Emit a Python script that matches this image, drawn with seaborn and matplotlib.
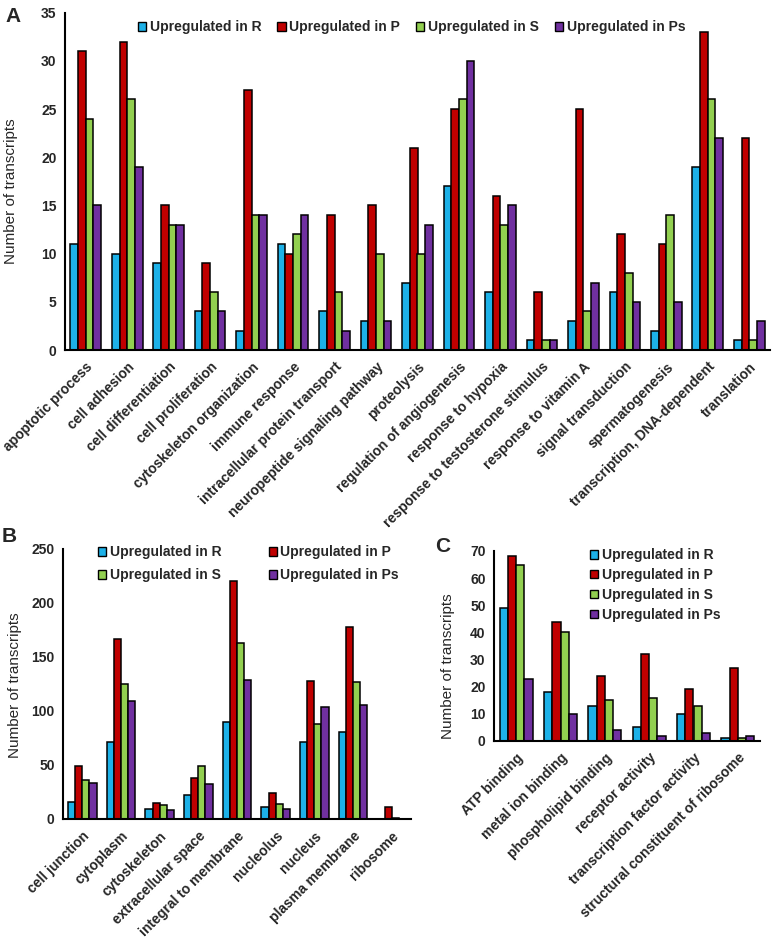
import matplotlib
matplotlib.use("Agg")
import matplotlib.pyplot as plt
from matplotlib.patches import Patch
import seaborn as sns
import pandas as pd

sns.set_style("white")
plt.rcParams['font.family'] = ['Liberation Sans', 'DejaVu Sans']

series = ["Upregulated in R", "Upregulated in P", "Upregulated in S", "Upregulated in Ps"]
colors = ["#1DB1E8", "#C00000", "#92D050", "#7030A0"]

# Panel A
cats_a = ["apoptotic process", "cell adhesion", "cell differentiation", "cell proliferation",
          "cytoskeleton organization", "immune response", "intracellular protein transport",
          "neuropeptide signaling pathway", "proteolysis", "regulation of angiogenesis",
          "response to hypoxia", "response to testosterone stimulus", "response to vitamin A",
          "signal transduction", "spermatogenesis", "transcription, DNA-dependent", "translation"]
a_R = [11, 10, 9, 4, 2, 11, 4, 3, 7, 17, 6, 1, 3, 6, 2, 19, 1]
a_P = [31, 32, 15, 9, 27, 10, 14, 15, 21, 25, 16, 6, 25, 12, 11, 33, 22]
a_S = [24, 26, 13, 6, 14, 12, 6, 10, 10, 26, 13, 1, 4, 8, 14, 26, 1]
a_Ps = [15, 19, 13, 4, 14, 14, 2, 3, 13, 30, 15, 1, 7, 5, 5, 22, 3]

# Panel B
cats_b = ["cell junction", "cytoplasm", "cytoskeleton", "extracellular space",
          "integral to membrane", "nucleolus", "nucleus", "plasma membrane", "ribosome"]
b_R = [16, 71, 9, 22, 90, 11, 71, 81, 0]
b_P = [49, 167, 15, 38, 220, 24, 128, 178, 11]
b_S = [36, 125, 13, 49, 163, 14, 88, 127, 1]
b_Ps = [33, 109, 8, 32, 129, 9, 104, 106, 0]

# Panel C
cats_c = ["ATP binding", "metal ion binding", "phospholipid binding", "receptor activity",
          "transcription factor activity", "structural constituent of ribosome"]
c_R = [49, 18, 13, 5, 10, 1]
c_P = [68, 44, 24, 32, 19, 27]
c_S = [65, 40, 15, 16, 13, 1]
c_Ps = [23, 10, 4, 2, 3, 2]


def long_df(cats, vals):
    rows = []
    for s, v in zip(series, vals):
        for c, x in zip(cats, v):
            rows.append({"cat": c, "series": s, "value": x})
    return pd.DataFrame(rows)


W, H = 773, 939
fig = plt.figure(figsize=(W / 100, H / 100), dpi=100)


def px_axes(left, right, top, bottom):
    return fig.add_axes([left / W, 1 - bottom / H, (right - left) / W, (bottom - top) / H])


axA = px_axes(65, 770, 12.7, 350)
axB = px_axes(63, 411, 549, 819)
axC = px_axes(494, 760, 551, 741)

panels = [
    (axA, cats_a, [a_R, a_P, a_S, a_Ps], 35, 5, (-0.067, 0.47)),
    (axB, cats_b, [b_R, b_P, b_S, b_Ps], 250, 50, (-0.118, 0.496)),
    (axC, cats_c, [c_R, c_P, c_S, c_Ps], 70, 10, (-0.147, 0.395)),
]

for ax, cats, vals, ymax, step, lab in panels:
    df = long_df(cats, vals)
    sns.barplot(data=df, x="cat", y="value", hue="series", hue_order=series,
                palette=colors, saturation=1, width=0.74, gap=0,
                edgecolor="black", linewidth=1.1, ax=ax, legend=False, errorbar=None)
    ax.set_ylim(0, ymax)
    ax.set_xlim(-0.5, len(cats) - 0.5)
    ax.set_yticks(range(0, ymax + 1, step))
    ax.set_xlabel("")
    ax.set_ylabel("Number of transcripts", fontsize=11)
    ax.yaxis.set_label_coords(*lab)
    for sp in ["top", "right"]:
        ax.spines[sp].set_visible(False)
    for sp in ["left", "bottom"]:
        ax.spines[sp].set_color("black")
        ax.spines[sp].set_linewidth(1.5)
    ax.tick_params(axis="y", direction="out", length=4, width=1.2, color="black",
                   labelsize=10, pad=2)
    ax.tick_params(axis="x", length=0, pad=7)
    for t in ax.get_yticklabels():
        t.set_fontweight("bold")
    ax.set_xticks(range(len(cats)))
    ax.set_xticklabels(cats, rotation=45, ha="right", va="top", rotation_mode="anchor",
                       fontsize=10, fontweight="bold")

handles = [Patch(facecolor=c, edgecolor="black", linewidth=1.0, label=s) for s, c in zip(series, colors)]
leg_kw = dict(frameon=False, prop={"weight": "bold", "size": 10}, handlelength=0.6,
              handleheight=0.6, handletextpad=0.25, borderpad=0, borderaxespad=0,
              bbox_transform=fig.transFigure, loc="upper left")

fig.legend(handles=handles, ncol=4, columnspacing=1.15,
           bbox_to_anchor=(138 / W, 1 - 20 / H), **leg_kw)
fig.legend(handles=[handles[0], handles[2], handles[1], handles[3]], ncol=2,
           columnspacing=3.4, labelspacing=0.65,
           bbox_to_anchor=(98 / W, 1 - 545 / H), **leg_kw)
fig.legend(handles=handles, ncol=1, labelspacing=0.43,
           bbox_to_anchor=(590 / W, 1 - 548 / H), **leg_kw)

fig.text(13 / W, 1 - 16 / H, "A", fontsize=15, fontweight="bold", ha="center", va="center")
fig.text(9 / W, 1 - 537 / H, "B", fontsize=15, fontweight="bold", ha="center", va="center")
fig.text(443 / W, 1 - 546 / H, "C", fontsize=15, fontweight="bold", ha="center", va="center")

fig.savefig("out.png", dpi=100)
